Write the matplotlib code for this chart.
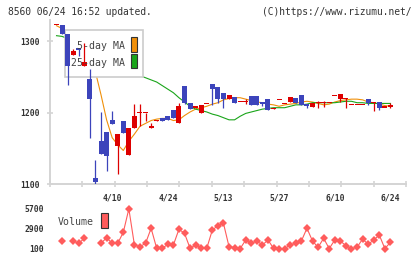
import numpy as np
import matplotlib
matplotlib.use("Agg")
import matplotlib.pyplot as plt
from matplotlib.patches import Rectangle

# daily prices, 3/27 .. 6/24 (61 trading days)
opens = [1324, 1323, 1310, 1281, 1291, 1265, 1247, 1109, 1160, 1173,
         1190, 1153, 1188, 1141, 1179, 1200, 1200, 1179, 1189, 1192,
         1195, 1204, 1186, 1237, 1214, 1207, 1200, 1213, 1240, 1236,
         1227, 1219, 1222, 1216, 1216, 1223, 1223, 1215, 1219, 1205,
         1219, 1213, 1215, 1220, 1225, 1212, 1208, 1214, 1214, 1214,
         1224, 1219, 1220, 1211, 1211, 1211, 1219, 1213, 1215, 1208,
         1208]
highs = [1324, 1323, 1310, 1290, 1291, 1298, 1261, 1134, 1201, 1173,
         1202, 1170, 1188, 1178, 1212, 1212, 1200, 1185, 1190, 1192,
         1195, 1204, 1214, 1237, 1214, 1209, 1211, 1213, 1240, 1236,
         1227, 1225, 1222, 1216, 1219, 1223, 1223, 1215, 1219, 1207,
         1219, 1213, 1222, 1220, 1225, 1212, 1213, 1217, 1217, 1214,
         1224, 1226, 1220, 1211, 1211, 1211, 1219, 1215, 1215, 1208,
         1213]
lows = [1324, 1310, 1239, 1281, 1280, 1265, 1165, 1100, 1142, 1118,
        1184, 1114, 1171, 1141, 1179, 1182, 1188, 1179, 1189, 1189,
        1190, 1193, 1186, 1212, 1205, 1207, 1200, 1213, 1211, 1213,
        1207, 1219, 1214, 1216, 1212, 1211, 1211, 1209, 1204, 1205,
        1219, 1213, 1215, 1213, 1211, 1206, 1208, 1207, 1208, 1214,
        1224, 1215, 1207, 1211, 1211, 1211, 1211, 1203, 1204, 1208,
        1207]
closes = [1324, 1310, 1265, 1286, 1288, 1271, 1219, 1103, 1142, 1139,
          1184, 1170, 1171, 1178, 1196, 1200, 1200, 1181, 1190, 1189,
          1190, 1193, 1209, 1214, 1205, 1209, 1211, 1213, 1233, 1219,
          1219, 1225, 1214, 1216, 1216, 1211, 1211, 1212, 1204, 1207,
          1219, 1213, 1222, 1213, 1211, 1209, 1213, 1214, 1214, 1214,
          1224, 1226, 1220, 1211, 1211, 1211, 1213, 1215, 1206, 1208,
          1211]

# moving averages as drawn on the chart
ma5 = [1322, 1318, 1306, 1296, 1290, 1283, 1275, 1257, 1225, 1190,
       1165, 1155, 1147, 1160, 1170, 1181, 1185, 1189, 1191, 1192,
       1192, 1189, 1190, 1196, 1201, 1205, 1207, 1209, 1212, 1214,
       1218, 1220, 1221, 1221, 1219, 1217, 1215, 1214, 1212, 1211,
       1209, 1211, 1212, 1213, 1215, 1216, 1215, 1213, 1211, 1212,
       1215, 1217, 1218, 1219, 1219, 1218, 1215, 1214, 1212, 1210,
       1209]
ma25 = [1308, 1307, 1304, 1301, 1298, 1295, 1291, 1287, 1283, 1278,
        1273, 1269, 1264, 1260, 1256, 1252, 1249, 1246, 1243, 1238,
        1233, 1228, 1221, 1215, 1209, 1205, 1203, 1201, 1198, 1196,
        1193, 1190, 1190, 1195, 1199, 1201, 1203, 1205, 1206, 1207,
        1207, 1207, 1209, 1211, 1211, 1212, 1214, 1214, 1214, 1214,
        1214, 1215, 1216, 1216, 1214, 1214, 1213, 1213, 1213, 1213,
        1213]

# volume (nan = not shown)
volume = [np.nan, 1140, np.nan, 1140, 810, 1520, np.nan, np.nan, 810, 1600,
          810, 810, 2370, 5700, 570, 330, 810, 2940, 100, 100,
          670, 570, 2800, 2230, 100, 570, 190, 100, 2700, 3310,
          3650, 330, 190, 60, 1280, 810, 1140, 570, 1280, 100,
          60, 60, 570, 810, 1140, 2940, 1140, 240, 1520, 60,
          1280, 1140, 470, 60, 240, 1420, 670, 1280, 1990, 60,
          950]

date_labels = {10: "4/10", 20: "4/24", 30: "5/13", 40: "5/27", 50: "6/10", 60: "6/24"}

RED = "#dd0000"
BLUE = "#3c44bb"
ORANGE = "#f0900a"
GREEN = "#1aa51a"
GRAY = "#d4d4d4"
TXT = "#333333"
MONO = "DejaVu Sans Mono"

W, H = 420, 259
fig = plt.figure(figsize=(W / 100, H / 100), dpi=100)

def px_axes(x0, y0, x1, y1):
    return fig.add_axes([x0 / W, 1 - y1 / H, (x1 - x0) / W, (y1 - y0) / H])

ax = px_axes(50, 20, 406, 184)
vax = px_axes(50, 205, 406, 252)

x = np.arange(len(closes))
o = np.array(opens, float)
c = np.array(closes, float)
up = c >= o
colors = [RED if u else BLUE for u in up]

xlim = (-1.17, 62.8)

# moving averages (behind legend box)
ax.plot(x, ma5, color=ORANGE, lw=0.8, zorder=1)
ax.plot(x, ma25, color=GREEN, lw=0.8, zorder=1)

# legend box
ax.add_patch(Rectangle((0.042, 0.652), 0.219, 0.287, transform=ax.transAxes,
                       facecolor="white", edgecolor="#cccccc", lw=1.2, zorder=2))

# candles
ax.vlines(x, lows, highs, colors=colors, lw=0.9, zorder=3)
body_h = np.maximum(np.abs(c - o), 1.6)
body_b = np.minimum(o, c) - np.where(np.abs(c - o) < 1.6, 0.8, 0)
ax.bar(x, body_h, bottom=body_b, width=0.9, color=colors, linewidth=0, zorder=4)

# legend text and swatches
ax.text(0.211, 0.841, "5-day MA", transform=ax.transAxes, ha="right", va="center",
        fontsize=7.1, family=MONO, color="#444444", zorder=5)
ax.text(0.211, 0.736, "25-day MA", transform=ax.transAxes, ha="right", va="center",
        fontsize=7.1, family=MONO, color="#444444", zorder=5)
ax.add_patch(Rectangle((0.227, 0.807), 0.018, 0.087, transform=ax.transAxes,
                       facecolor=ORANGE, edgecolor="#333333", lw=0.8, zorder=5))
ax.add_patch(Rectangle((0.227, 0.707), 0.018, 0.087, transform=ax.transAxes,
                       facecolor=GREEN, edgecolor="#333333", lw=0.8, zorder=5))

ax.set_xlim(*xlim)
ax.set_ylim(1100, 1330)
for s in ["top", "right"]:
    ax.spines[s].set_visible(False)
for s in ["left", "bottom"]:
    ax.spines[s].set_color(GRAY)
    ax.spines[s].set_linewidth(1.4)
ax.set_yticks([1100, 1200, 1300])
ax.set_yticklabels(["1100", "1200", "1300"], family=MONO, fontsize=5.8,
                   color=TXT, fontweight="bold")
ax.tick_params(axis="y", direction="inout", length=5, width=1.2, color=GRAY, pad=5)
ax.set_xticks(np.linspace(xlim[0], xlim[1], 12))
ax.set_xticklabels([])
ax.tick_params(axis="x", direction="inout", length=5, width=1.2, color=GRAY)
for i, lab in date_labels.items():
    ax.text(i, -0.085, lab, transform=ax.get_xaxis_transform(), ha="center",
            va="center", fontsize=5.8, family=MONO, color=TXT, fontweight="bold")

# volume panel
vax.plot(x, volume, color="#ff5c5c", lw=0.8, marker="D", ms=3.6,
         markeredgewidth=0, clip_on=False)
vax.set_xlim(*xlim)
vax.set_ylim(-425, 6250)
for s in vax.spines.values():
    s.set_visible(False)
vax.set_xticks([])
vax.set_yticks([100, 2900, 5700])
vax.set_yticklabels(["100", "2900", "5700"], family=MONO, fontsize=5.8,
                    color=TXT, fontweight="bold")
vax.tick_params(axis="y", length=0, pad=4.5)

fig.text(58 / W, 1 - 222 / H, "Volume", ha="left", va="center",
         fontsize=7.1, family=MONO, color="#444444")
fig.patches.append(Rectangle((101 / W, 1 - 228.3 / H), 6.7 / W, 15.6 / H,
                             transform=fig.transFigure, facecolor="#ff5c5c",
                             edgecolor="#333333", lw=0.8))

fig.text(8 / W, 1 - 12 / H, "8560 06/24 16:52 updated.", ha="left", va="center",
         fontsize=6.9, family=MONO, color=TXT)
fig.text(411 / W, 1 - 12 / H, "(C)https://www.rizumu.net/", ha="right", va="center",
         fontsize=6.9, family=MONO, color=TXT)

fig.savefig("out.png", dpi=100, facecolor="white")
